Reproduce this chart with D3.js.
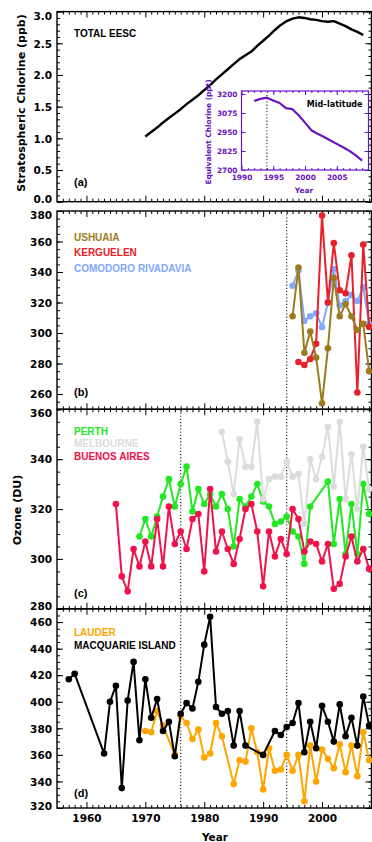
<!DOCTYPE html>
<html>
<head>
<meta charset="utf-8">
<script src="https://cdn.jsdelivr.net/npm/d3@7"></script>
<style>
  html, body { margin: 0; padding: 0; background: #fff; }
  svg { display: block; }
</style>
</head>
<body>
<svg id="chart" width="372" height="842"></svg>
<script>
// ---- (a) total equivalent effective stratospheric chlorine, ppb ----
const eescYears = [1970,1971,1972,1973,1974,1975,1976,1977,1978,1979,1980,1981,1982,1983,1984,1985,1986,1987,1988,1989,
                   1990,1991,1992,1993,1994,1995,1996,1997,1998,1999,2000,2001,2002,2003,2004,2005,2006,2007];
const eescValues = [1.03,1.10,1.17,1.25,1.32,1.39,1.46,1.54,1.61,1.68,1.76,1.84,1.93,2.01,2.09,2.17,2.25,2.31,2.37,2.46,
                    2.54,2.62,2.71,2.79,2.85,2.89,2.91,2.90,2.88,2.87,2.85,2.84,2.85,2.81,2.77,2.72,2.68,2.63];

// inset: mid-latitude equivalent chlorine, ppt
const midLatYears = [1992,1993,1994,1995,1996,1997,1998,1999,2000,2001,2002,2003,2004,2005,2006,2007,2008,2009];
const midLatValues = [3155,3168,3176,3158,3141,3107,3101,3060,3012,2962,2938,2917,2894,2872,2850,2826,2796,2762];

// ---- (b) ozone, DU ----
const ushuaiaYears = [1995,1996,1997,1998,1999,2000,2001,2002,2003,2004,2005,2006,2007,2008];
const ushuaiaValues = [311,343,287,301,284,254,290,336,311,319,311,302,306,275];
const kerguelenYears = [1996,1997,1998,1999,2000,2001,2002,2003,2004,2005,2006,2007,2008];
const kerguelenValues = [281,279,283,293,377,320,359,328,326,351,261,358,304];
const comodoroYears = [1995,1996,1997,1998,1999,2000,2001,2002,2003,2004,2005,2006,2007,2008];
const comodoroValues = [331,341,308,311,313,304,320,342,318,321,325,321,330,306];

// ---- (c) ozone, DU ----
const perthYears = [1969,1970,1971,1972,1973,1974,1975,1976,1977,1978,1979,1980,1981,1982,1983,1984,1985,1986,1987,1988,
                    1989,1990,1991,1992,1993,1994,1995,1996,1997,1998,2001,2002,2003,2004,2005,2006,2007,2008];
const perthValues = [309,316,309,317,325,332,321,330,337,319,328,322,326,321,326,320,305,324,321,325,
                     330,323,321,314,315,317,311,309,298,321,331,306,324,302,322,302,330,318];
const melbourneYears = [1983,1984,1985,1986,1987,1988,1989,1990,1991,1992,1993,1994,1995,1996,1997,1998,1999,2000,2001,
                        2002,2003,2004,2005,2006,2007,2008];
const melbourneValues = [351,339,326,348,337,337,355,324,332,333,333,339,333,334,314,340,332,341,353,
                         329,355,324,342,320,345,328];
const buenosYears = [1965,1966,1967,1968,1969,1970,1971,1972,1973,1974,1975,1976,1977,1978,1979,1980,1981,1982,1983,1984,
                     1985,1986,1987,1988,1989,1990,1991,1992,1993,1994,1995,1996,1997,1998,1999,2000,2001,2002,2003,2004,
                     2005,2006,2007,2008];
const buenosValues = [322,293,287,304,297,307,297,316,297,321,306,311,304,316,318,295,328,303,311,304,
                      298,308,320,322,311,289,311,301,308,302,320,316,303,307,306,299,306,288,290,301,
                      309,299,304,296];

// ---- (d) ozone, DU ----
const lauderYears = [1970,1971,1972,1973,1975,1976,1977,1978,1979,1980,1981,1982,1983,1985,1986,1987,1988,1989,1990,1991,
                     1992,1993,1994,1995,1996,1997,1998,1999,2000,2001,2002,2003,2004,2005,2006,2007,2008];
const lauderValues = [378,377,393,382,360,389,384,372,379,358,361,384,374,338,356,355,380,362,334,365,
                      348,349,360,348,360,325,367,340,364,357,350,368,347,367,344,377,356];
const macquarieYears = [1957,1958,1963,1964,1965,1966,1967,1968,1969,1970,1971,1972,1973,1974,1975,1976,1977,1978,1979,1980,
                        1981,1982,1983,1984,1985,1986,1987,1990,1992,1993,1994,1995,1996,1997,1998,1999,2000,2001,2002,2003,
                        2004,2005,2006,2007,2008];
const macquarieValues = [417,421,361,400,412,335,401,430,371,417,388,402,378,385,359,391,399,395,415,443,
                         464,396,391,393,367,393,367,360,378,375,381,384,399,362,385,365,397,385,370,398,
                         374,388,367,404,382];

// axis tick labels
const yearTicks = [1960, 1970, 1980, 1990, 2000];
const insetYearTicks = [1990, 1995, 2000, 2005];
const insetValueTicks = [2700, 2825, 2950, 3075, 3200];
const markerYears = [1976, 1994];

// ------------------------------------------------------------------
const svg = d3.select("#chart");
const numFont = "'DejaVu Sans', sans-serif";
const txtFont = "'Liberation Sans', Arial, sans-serif";
const x = d3.scaleLinear().domain([1955, 2008.4]).range([57, 371.5]);
const yearMinor = d3.range(1956, 2009).filter(v => v % 10 !== 0);

function zip(years, values) { return years.map((yr, i) => ({ yr, v: values[i] })); }

function drawPanel(o) {
  const y = d3.scaleLinear().domain(o.domain).range([o.bottom, o.top]);
  const g = svg.append("g");
  const [x0, x1] = x.range();

  const axes = [
    [d3.axisLeft(y).tickValues(o.minor).tickSize(-3).tickFormat(""), x0, 0],
    [d3.axisRight(y).tickValues(o.minor).tickSize(-3).tickFormat(""), x1, 0],
    [d3.axisRight(y).tickValues(o.major).tickSize(-6).tickFormat(""), x1, 0],
    [d3.axisTop(x).tickValues(yearMinor).tickSize(-3).tickFormat(""), 0, o.top],
    [d3.axisTop(x).tickValues(yearTicks).tickSize(-6).tickFormat(""), 0, o.top],
    [d3.axisBottom(x).tickValues(yearMinor).tickSize(-3).tickFormat(""), 0, o.bottom],
    [d3.axisBottom(x).tickValues(yearTicks).tickSize(-6).tickFormat(o.xLabels ? d3.format("d") : ""), 0, o.bottom]
  ];
  axes.forEach(([ax, tx, ty]) => {
    const a = g.append("g").attr("transform", `translate(${tx},${ty})`).call(ax.tickPadding(7));
    a.select(".domain").remove();
    a.selectAll("line").attr("stroke", "#000").attr("stroke-width", 1);
    a.selectAll("text").attr("font-family", numFont).attr("font-weight", "bold")
      .attr("font-size", "10.5px").attr("fill", "#000");
  });

  // left axis with value labels
  const la = g.append("g").attr("transform", `translate(${x0},0)`)
    .call(d3.axisLeft(y).tickValues(o.major).tickSize(-6).tickPadding(5).tickFormat(o.fmt));
  la.select(".domain").remove();
  la.selectAll("line").attr("stroke", "#000");
  la.selectAll("text").attr("font-family", numFont).attr("font-weight", "bold")
    .attr("font-size", "10.5px").attr("fill", "#000")
    .attr("dy", d => d === o.domain[1] ? "0.72em" : d === o.domain[0] ? "0.1em" : "0.36em");

  g.append("rect").attr("x", x0).attr("y", o.top).attr("width", x1 - x0).attr("height", o.bottom - o.top)
    .attr("fill", "none").attr("stroke", "#000").attr("stroke-width", 1.4);

  (o.dotted || []).forEach(yr => {
    g.append("line").attr("x1", x(yr)).attr("x2", x(yr)).attr("y1", o.top).attr("y2", o.bottom)
      .attr("stroke", "#111").attr("stroke-width", 1.1).attr("stroke-dasharray", "1.1,2.1");
  });

  g.append("text").attr("x", 74).attr("y", o.tagY).attr("dy", "0.35em")
    .attr("font-family", txtFont).attr("font-weight", "bold").attr("font-size", "11px")
    .text(o.tag);

  (o.legend || []).forEach(([label, color, ly]) => {
    g.append("text").attr("x", 74).attr("y", ly).attr("dy", "0.35em")
      .attr("font-family", txtFont).attr("font-weight", "bold").attr("font-size", "10px")
      .attr("fill", color).text(label);
  });
  return { g, y };
}

function drawSeries(p, years, values, color) {
  const pts = zip(years, values);
  const line = d3.line().x(d => x(d.yr)).y(d => p.y(d.v));
  p.g.append("path").datum(pts).attr("d", line).attr("fill", "none")
    .attr("stroke", color).attr("stroke-width", 2).attr("stroke-linejoin", "round");
  p.g.append("g").selectAll("circle").data(pts).join("circle")
    .attr("cx", d => x(d.yr)).attr("cy", d => p.y(d.v)).attr("r", 3.3).attr("fill", color);
}

// ---- panel (a) ----
const pa = drawPanel({
  top: 11.6, bottom: 201.7, domain: [0, 3],
  major: d3.range(0, 3.01, 0.5), minor: d3.range(0, 3.01, 0.1),
  fmt: d3.format(".1f"), tag: "(a)", tagY: 182
});
pa.g.append("path").datum(zip(eescYears, eescValues))
  .attr("d", d3.line().x(d => x(d.yr)).y(d => pa.y(d.v)))
  .attr("fill", "none").attr("stroke", "#000").attr("stroke-width", 2.4).attr("stroke-linejoin", "round");
pa.g.append("text").attr("x", 74).attr("y", 33.5).attr("dy", "0.35em")
  .attr("font-family", txtFont).attr("font-weight", "bold").attr("font-size", "10px").text("TOTAL EESC");

// inset
const purple = "#6a14c0";
const ix = d3.scaleLinear().domain([1990, 2010]).range([241.5, 368.5]);
const iy = d3.scaleLinear().domain([2700, 3220]).range([170, 91]);
const ig = svg.append("g");
ig.append("rect").attr("x", ix.range()[0]).attr("y", iy.range()[1])
  .attr("width", ix.range()[1] - ix.range()[0]).attr("height", iy.range()[0] - iy.range()[1]).attr("fill", "#fff");
[
  [d3.axisLeft(iy).tickValues(insetValueTicks).tickSize(-4).tickPadding(4).tickFormat(d3.format("d")), ix.range()[0], 0],
  [d3.axisRight(iy).tickValues(insetValueTicks).tickSize(-4).tickFormat(""), ix.range()[1], 0],
  [d3.axisBottom(ix).tickValues(insetYearTicks).tickSize(-4).tickPadding(5).tickFormat(d3.format("d")), 0, iy.range()[0]],
  [d3.axisBottom(ix).tickValues(d3.range(1991, 2010)).tickSize(-2).tickFormat(""), 0, iy.range()[0]],
  [d3.axisTop(ix).tickValues(insetYearTicks).tickSize(-4).tickFormat(""), 0, iy.range()[1]],
  [d3.axisTop(ix).tickValues(d3.range(1991, 2010)).tickSize(-2).tickFormat(""), 0, iy.range()[1]]
].forEach(([ax, tx, ty]) => {
  const a = ig.append("g").attr("transform", `translate(${tx},${ty})`).call(ax);
  a.select(".domain").remove();
  a.selectAll("line").attr("stroke", purple);
  a.selectAll("text").attr("font-family", numFont).attr("font-weight", "bold")
    .attr("font-size", "7.4px").attr("fill", purple);
});
ig.append("rect").attr("x", ix.range()[0]).attr("y", iy.range()[1])
  .attr("width", ix.range()[1] - ix.range()[0]).attr("height", iy.range()[0] - iy.range()[1])
  .attr("fill", "none").attr("stroke", purple).attr("stroke-width", 1.2);
ig.append("line").attr("x1", ix(1994)).attr("x2", ix(1994)).attr("y1", iy.range()[1] + 4).attr("y2", iy.range()[0])
  .attr("stroke", "#111").attr("stroke-width", 1.1).attr("stroke-dasharray", "1.1,2.1");
ig.append("path").datum(zip(midLatYears, midLatValues))
  .attr("d", d3.line().x(d => ix(d.yr)).y(d => iy(d.v)))
  .attr("fill", "none").attr("stroke", purple).attr("stroke-width", 2.2).attr("stroke-linejoin", "round");
ig.append("text").attr("x", 362.5).attr("y", 104.3).attr("dy", "0.35em").attr("text-anchor", "end")
  .attr("font-family", numFont).attr("font-weight", "bold").attr("font-size", "8px").text("Mid–latitude");
ig.append("text").attr("x", 304).attr("y", 190).attr("dy", "0.35em").attr("text-anchor", "middle")
  .attr("font-family", numFont).attr("font-weight", "bold").attr("font-size", "7.4px").attr("fill", purple).text("Year");
ig.append("text").attr("transform", "translate(208,132) rotate(-90)").attr("dy", "0.35em").attr("text-anchor", "middle")
  .attr("font-family", numFont).attr("font-weight", "bold").attr("font-size", "7.4px").attr("fill", purple)
  .text("Equivalent Chlorine (ppt)");

// ---- panel (b) ----
const cUsh = "#9a7c1e", cKer = "#e8202a", cCom = "#80a8ff";
const pb = drawPanel({
  top: 211, bottom: 409.3, domain: [250, 380],
  major: d3.range(260, 381, 20), minor: d3.range(250, 381, 5),
  fmt: d3.format("d"), tag: "(b)", tagY: 391.7, dotted: [1994],
  legend: [["USHUAIA", cUsh, 237.7], ["KERGUELEN", cKer, 252.7], ["COMODORO RIVADAVIA", cCom, 268.3]]
});
drawSeries(pb, comodoroYears, comodoroValues, cCom);
drawSeries(pb, kerguelenYears, kerguelenValues, cKer);
drawSeries(pb, ushuaiaYears, ushuaiaValues, cUsh);

// ---- panel (c) ----
const cPer = "#22e822", cMel = "#dcdcdc", cBue = "#f0124a";
const pc = drawPanel({
  top: 409.3, bottom: 608.8, domain: [280, 360],
  major: d3.range(280, 361, 20), minor: d3.range(280, 361, 5),
  fmt: d3.format("d"), tag: "(c)", tagY: 593.3, dotted: markerYears,
  legend: [["PERTH", cPer, 431], ["MELBOURNE", cMel, 443.7], ["BUENOS AIRES", cBue, 456.7]]
});
drawSeries(pc, perthYears, perthValues, cPer);
drawSeries(pc, melbourneYears, melbourneValues, cMel);
drawSeries(pc, buenosYears, buenosValues, cBue);

// ---- panel (d) ----
const cLau = "#ffa500", cMac = "#000000";
const pd = drawPanel({
  top: 608.8, bottom: 808, domain: [320, 470],
  major: d3.range(320, 461, 20), minor: d3.range(320, 471, 5),
  fmt: d3.format("d"), tag: "(d)", tagY: 792.7, dotted: markerYears, xLabels: true,
  legend: [["LAUDER", cLau, 632.7], ["MACQUARIE ISLAND", cMac, 645.7]]
});
drawSeries(pd, lauderYears, lauderValues, cLau);
drawSeries(pd, macquarieYears, macquarieValues, cMac);

// axis titles
svg.append("text").attr("transform", "translate(21.5,103) rotate(-90)").attr("dy", "0.35em")
  .attr("text-anchor", "middle").attr("font-family", numFont).attr("font-weight", "bold").attr("font-size", "11px")
  .text("Stratospheric Chlorine (ppb)");
svg.append("text").attr("transform", "translate(17.5,510) rotate(-90)").attr("dy", "0.35em")
  .attr("text-anchor", "middle").attr("font-family", numFont).attr("font-weight", "bold").attr("font-size", "11px")
  .text("Ozone (DU)");
svg.append("text").attr("x", 215).attr("y", 837).attr("dy", "0.35em").attr("text-anchor", "middle")
  .attr("font-family", numFont).attr("font-weight", "bold").attr("font-size", "10.5px").text("Year");
</script>
</body>
</html>
